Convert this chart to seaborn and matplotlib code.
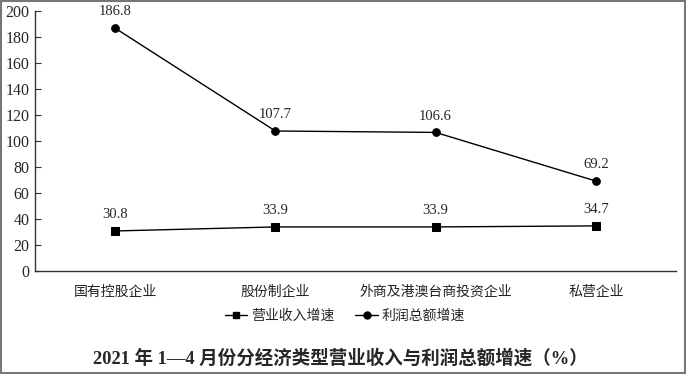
import matplotlib
matplotlib.use("Agg")
import matplotlib.pyplot as plt
import seaborn as sns
import pandas as pd
from matplotlib.lines import Line2D
from matplotlib.patches import Rectangle

categories = ["国有控股企业", "股份制企业", "外商及港澳台商投资企业", "私营企业"]
revenue_growth = [30.8, 33.9, 33.9, 34.7]
profit_growth = [186.8, 107.7, 106.6, 69.2]
series_names = ["营业收入增速", "利润总额增速"]
y_ticks = [0, 20, 40, 60, 80, 100, 120, 140, 160, 180, 200]
title = "2021 年 1—4 月份分经济类型营业收入与利润总额增速（%）"

sns.set_theme(style="white")
plt.rcParams['font.family'] = ['Liberation Serif', 'Noto Sans CJK SC', 'DejaVu Sans']

df = pd.DataFrame({
    "cat": categories * 2,
    "x": list(range(len(categories))) * 2,
    "value": revenue_growth + profit_growth,
    "series": [series_names[0]] * len(categories) + [series_names[1]] * len(categories),
})

fig = plt.figure(figsize=(6.86, 3.74), dpi=100)
ax = fig.add_axes([35 / 686, 1 - 271 / 374, (676 - 35) / 686, (271 - 11) / 374])

sns.lineplot(data=df, x="x", y="value", hue="series", style="series",
             markers={series_names[0]: "s", series_names[1]: "o"},
             dashes=False, palette={series_names[0]: "black", series_names[1]: "black"},
             markersize=5.5, linewidth=1, ax=ax, legend=False,
             markeredgecolor="black")

for s, vals in zip(series_names, [revenue_growth, profit_growth]):
    for i, v in enumerate(vals):
        ax.annotate(f"{v:.1f}", (i, v), xytext=(0, 7), textcoords="offset points",
                    ha="center", va="bottom", fontsize=10.5, family="Liberation Serif")

ax.set_xlim(-0.5, len(categories) - 0.5)
ax.set_ylim(0, 200)
ax.set_yticks(y_ticks)
ax.set_yticklabels([str(t) for t in y_ticks], fontsize=11.5, family="Liberation Serif")
ax.set_xticks(range(len(categories)))
ax.set_xticklabels(categories, fontsize=10, family="Noto Sans CJK SC", color="#222222")
ax.tick_params(axis="x", which="major", length=0, pad=10)
ax.set_xticks([i + 0.5 for i in range(len(categories))], minor=True)
ax.tick_params(axis="x", which="minor", direction="in", length=4, width=0.8, color="#333333")
ax.tick_params(axis="y", which="major", direction="in", length=4, width=0.8, color="#333333", pad=4, left=True)
ax.set_xlabel("")
ax.set_ylabel("")
for side in ["top", "right"]:
    ax.spines[side].set_visible(False)
for side in ["left", "bottom"]:
    ax.spines[side].set_color("#333333")
    ax.spines[side].set_linewidth(1.0)

handles = [
    Line2D([0], [0], color="black", lw=1, marker="s", markersize=5),
    Line2D([0], [0], color="black", lw=1, marker="o", markersize=5),
]
fig.legend(handles, series_names, loc="center", bbox_to_anchor=(345 / 686, 1 - 316 / 374),
           ncol=2, frameon=False, handlelength=1.6, handletextpad=0.3, columnspacing=1.5,
           prop={"family": "Noto Sans CJK SC", "size": 10})

fig.text(340 / 686, 1 - 358 / 374, title, ha="center", va="center", fontsize=13.3,
         fontweight="bold", family=["Liberation Serif", "Noto Sans CJK SC"])

fig.patches.append(Rectangle((0.001, 0.002), 0.997, 0.995, transform=fig.transFigure,
                             fill=False, edgecolor="#777777", linewidth=1.5))

fig.savefig("out.png", dpi=100)
